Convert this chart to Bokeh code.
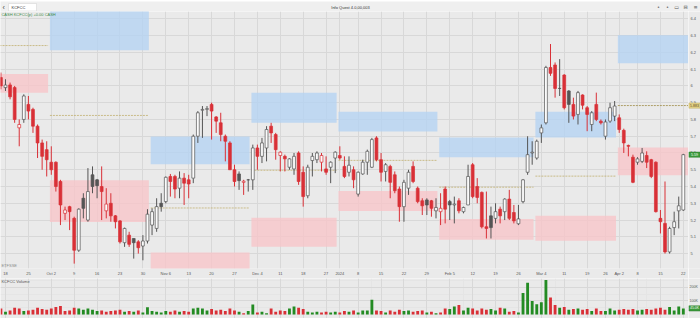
import numpy as np
from bokeh.plotting import figure
from bokeh.models import Range1d, FixedTicker, ColumnDataSource, Label, Grid
from bokeh.layouts import column, row
from bokeh.embed import file_html
from bokeh.resources import INLINE
from bokeh.core.properties import value

# ---------------- data ----------------
day_index = list(range(-1, 149))
opens = [6.05, 5.99, 6.006, 5.99, 5.75, 5.80, 5.89, 5.86, 5.76, 5.66, 5.62, 5.545, 5.545, 5.43, 5.24, 5.28, 5.21, 5.02, 5.33, 5.20,
         5.47, 5.44, 5.40, 5.255, 5.30, 5.225, 5.195, 5.065, 5.11, 5.09, 5.07, 5.045, 5.075, 5.17, 5.15, 5.30, 5.31, 5.46, 5.46, 5.39,
         5.45, 5.44, 5.45, 5.70, 5.855, 5.86, 5.89, 5.815, 5.78, 5.70, 5.66, 5.50, 5.475, 5.425, 5.44, 5.44, 5.63, 5.58, 5.63, 5.76,
         5.71, 5.585, 5.58, 5.515, 5.505, 5.60, 5.485, 5.345, 5.555, 5.56, 5.545, 5.505, 5.515, 5.57, 5.585, 5.52, 5.485, 5.50, 5.355, 5.475,
         5.545, 5.515, 5.69, 5.56, 5.49, 5.52, 5.47, 5.385, 5.28, 5.39, 5.52, 5.39, 5.315, 5.32, 5.315, 5.255, 5.25, 5.385, 5.31, 5.29,
         5.315, 5.25, 5.29, 5.53, 5.40, 5.365, 5.16, 5.225, 5.21, 5.265, 5.25, 5.325, 5.245, 5.178, 5.31, 5.485, 5.60, 5.57, 5.72, 5.78,
         6.11, 6.125, 5.985, 6.065, 5.97, 5.89, 5.83, 5.946, 5.87, 5.77, 5.89, 5.79, 5.70, 5.79, 5.82, 5.81, 5.735, 5.645, 5.575, 5.545,
         5.55, 5.585, 5.56, 5.545, 5.21, 5.18, 5.01, 5.155, 5.255, 5.26]
highs = [6.08, 6.04, 6.02, 6.00, 5.80, 5.95, 5.94, 5.87, 5.77, 5.68, 5.67, 5.64, 5.55, 5.44, 5.28, 5.285, 5.22, 5.27, 5.36, 5.51,
         5.52, 5.445, 5.52, 5.39, 5.36, 5.23, 5.20, 5.155, 5.13, 5.09, 5.08, 5.11, 5.265, 5.27, 5.33, 5.36, 5.46, 5.475, 5.47, 5.49,
         5.48, 5.47, 5.71, 5.85, 5.88, 5.88, 5.90, 5.82, 5.84, 5.71, 5.67, 5.53, 5.49, 5.44, 5.445, 5.65, 5.65, 5.69, 5.76, 5.78,
         5.72, 5.61, 5.59, 5.57, 5.60, 5.61, 5.52, 5.53, 5.60, 5.61, 5.60, 5.58, 5.55, 5.61, 5.64, 5.58, 5.58, 5.52, 5.49, 5.56,
         5.62, 5.69, 5.70, 5.60, 5.54, 5.53, 5.49, 5.40, 5.44, 5.50, 5.55, 5.40, 5.33, 5.33, 5.32, 5.33, 5.36, 5.40, 5.32, 5.34,
         5.33, 5.28, 5.53, 5.54, 5.45, 5.37, 5.37, 5.28, 5.30, 5.28, 5.33, 5.38, 5.29, 5.29, 5.445, 5.70, 5.67, 5.68, 5.77, 6.12,
         6.25, 6.14, 6.16, 6.07, 5.975, 5.93, 5.97, 5.95, 5.88, 5.85, 5.96, 5.80, 5.80, 5.90, 5.91, 5.83, 5.745, 5.65, 5.59, 5.575,
         5.63, 5.61, 5.565, 5.55, 5.26, 5.43, 5.16, 5.25, 5.34, 5.595]
lows = [5.98, 5.97, 5.92, 5.78, 5.64, 5.78, 5.80, 5.72, 5.57, 5.50, 5.46, 5.47, 5.37, 5.17, 5.20, 5.14, 4.94, 5.01, 5.21, 5.19,
        5.36, 5.33, 5.20, 5.21, 5.19, 5.15, 5.06, 5.04, 5.04, 4.97, 5.00, 4.96, 5.06, 5.11, 5.13, 5.25, 5.30, 5.34, 5.33, 5.33,
        5.29, 5.33, 5.42, 5.66, 5.69, 5.82, 5.68, 5.72, 5.67, 5.55, 5.50, 5.40, 5.38, 5.35, 5.37, 5.38, 5.50, 5.54, 5.55, 5.66,
        5.56, 5.49, 5.49, 5.50, 5.47, 5.41, 5.28, 5.33, 5.46, 5.54, 5.49, 5.47, 5.42, 5.48, 5.56, 5.45, 5.46, 5.39, 5.34, 5.47,
        5.47, 5.51, 5.55, 5.43, 5.43, 5.33, 5.36, 5.19, 5.19, 5.35, 5.42, 5.30, 5.23, 5.23, 5.22, 5.21, 5.17, 5.18, 5.20, 5.18,
        5.24, 5.24, 5.29, 5.33, 5.30, 5.15, 5.09, 5.09, 5.18, 5.18, 5.20, 5.20, 5.18, 5.17, 5.30, 5.47, 5.53, 5.56, 5.66, 5.77,
        6.06, 5.93, 5.94, 5.86, 5.78, 5.80, 5.77, 5.86, 5.73, 5.73, 5.79, 5.77, 5.68, 5.78, 5.79, 5.72, 5.60, 5.58, 5.42, 5.53,
        5.54, 5.51, 5.45, 5.245, 5.12, 5.00, 5.00, 5.11, 5.15, 5.255]
closes = [6.00, 6.005, 5.935, 5.80, 5.77, 5.94, 5.85, 5.76, 5.66, 5.58, 5.56, 5.50, 5.40, 5.29, 5.26, 5.25, 5.02, 5.265, 5.27, 5.37,
          5.40, 5.405, 5.37, 5.295, 5.225, 5.19, 5.07, 5.15, 5.055, 5.065, 5.035, 5.075, 5.235, 5.25, 5.28, 5.28, 5.455, 5.43, 5.385, 5.45,
          5.42, 5.415, 5.70, 5.84, 5.86, 5.865, 5.85, 5.79, 5.71, 5.67, 5.50, 5.43, 5.435, 5.432, 5.44, 5.63, 5.58, 5.66, 5.74, 5.72,
          5.62, 5.605, 5.565, 5.565, 5.58, 5.43, 5.34, 5.515, 5.58, 5.60, 5.585, 5.485, 5.545, 5.605, 5.57, 5.46, 5.527, 5.44, 5.485, 5.545,
          5.61, 5.68, 5.56, 5.485, 5.53, 5.425, 5.375, 5.28, 5.425, 5.485, 5.43, 5.31, 5.285, 5.29, 5.27, 5.275, 5.27, 5.265, 5.29, 5.295,
          5.255, 5.275, 5.46, 5.34, 5.335, 5.16, 5.15, 5.155, 5.25, 5.225, 5.325, 5.21, 5.195, 5.207, 5.44, 5.59, 5.605, 5.67, 5.75, 6.11,
          6.075, 5.985, 5.985, 5.87, 5.89, 5.82, 5.96, 5.885, 5.83, 5.84, 5.80, 5.78, 5.785, 5.87, 5.88, 5.74, 5.66, 5.64, 5.425, 5.565,
          5.60, 5.545, 5.46, 5.25, 5.19, 5.01, 5.15, 5.19, 5.285, 5.59]
volume_k = [45, 20, 30, 50, 45, 25, 30, 35, 50, 40, 35, 45, 55, 62, 25, 30, 50, 45, 35, 45,
            35, 25, 30, 20, 25, 30, 35, 20, 25, 20, 30, 15, 54, 25, 20, 15, 25, 20, 30, 20,
            25, 20, 45, 50, 45, 30, 40, 30, 35, 25, 45, 30, 20, 10, 25, 74, 15, 20, 10, 45,
            20, 30, 25, 45, 60, 50, 40, 20, 15, 20, 15, 20, 15, 20, 15, 25, 20, 30, 15, 30,
            30, 110, 30, 25, 15, 30, 20, 35, 25, 30, 20, 25, 30, 15, 20, 10, 15, 45, 40, 60,
            70, 30, 50, 45, 30, 45, 35, 40, 30, 50, 45, 20, 25, 15, 160, 235, 100, 75, 90, 255,
            125, 70, 50, 55, 35, 40, 45, 35, 40, 25, 45, 25, 25, 45, 30, 35, 40, 35, 40, 30,
            35, 40, 35, 45, 50, 35, 55, 30, 60, 45]

# x tick labels (weekly) and price-axis tick labels
x_tick_index = [0, 5, 10, 15, 20, 25, 30, 35, 40, 45, 50, 55, 60, 65, 70, 73, 77, 82, 87, 92, 97, 102, 107, 112,
                117, 122, 127, 131, 134, 138, 143, 148]
x_tick_labels = ["18", "25", "Oct 2", "9", "16", "23", "30", "Nov 6", "13", "20", "27", "Dec 4", "11", "18", "27",
                 "2024", "8", "15", "22", "29", "Feb 5", "12", "19", "26", "Mar 4", "11", "19", "26", "Apr 2", "8",
                 "15", "22"]
y_ticks = [5.0, 5.1, 5.2, 5.3, 5.4, 5.5, 5.6, 5.7, 5.8, 5.9, 6.0, 6.1, 6.2, 6.3, 6.4]
y_tick_labels = ["5", "5.1", "5.2", "5.3", "5.4", "5.5", "5.6", "5.7", "5.8", "5.9", "6", "6.1", "6.2", "6.3", "6.4"]
vol_ticks = [100, 200]
vol_tick_labels = ["100K", "200K"]

# monthly zones (start/end in trading-day index)
zone_start = [-1.5, 9.5, 31.5, 53.5, 72.5, 94.5, 115.5, 133.5]
zone_end = [9.5, 31.5, 53.5, 72.5, 94.5, 115.5, 133.5, 149.5]
zone_high_top = [np.nan, 6.50, 5.698, 5.959, 5.846, 5.692, 5.846, 6.302]
zone_high_bottom = [np.nan, 6.213, 5.533, 5.781, 5.728, 5.574, 5.692, 6.136]
zone_mid = [6.241, 5.824, 5.272, 5.497, 5.556, 5.396, 5.462, 5.883]
zone_low_top = [6.071, 5.438, 5.006, 5.213, 5.373, 5.207, 5.225, 5.633]
zone_low_bottom = [5.959, 5.189, 4.85, 5.041, 5.254, 5.083, 5.077, 5.467]

# ---------------- styling ----------------
BG = "#eaeaea"
GRID = "#d8d8d8"
RED = "#d93037"
DARK = "#555555"
GREEN = "#238b23"
FONT = "Liberation Sans"
FS = "4px"

o = np.array(opens); h = np.array(highs); l = np.array(lows); c = np.array(closes)
prev = np.concatenate([[o[0]], c[:-1]])
up_prev = c >= prev
line_col = [DARK if u else RED for u in up_prev]
hollow = c >= o
fill_col = ["#fbfbfb" if hw else lc for hw, lc in zip(hollow, line_col)]
src = ColumnDataSource(dict(x=day_index, o=o, h=h, l=l, c=c,
                            top=np.maximum(o, c), bottom=np.minimum(o, c),
                            lc=line_col, fc=fill_col))

X0, X1 = -1.09, 149.13
Y0, Y1 = 4.911, 6.444
V0, V1 = -29.6, 266.4


def base_fig(**kw):
    f = figure(toolbar_location=None, output_backend="svg", **kw)
    f.background_fill_color = BG
    f.border_fill_color = BG
    f.outline_line_color = None
    return f


# ---------------- header ----------------
hdr = figure(width=700, height=11, x_range=Range1d(0, 700), y_range=Range1d(11, 0),
             x_axis_location=None, y_axis_location=None, toolbar_location=None,
             output_backend="svg", min_border=0)
hdr.background_fill_color = "#efefef"
hdr.border_fill_color = "#efefef"
hdr.outline_line_color = None
hdr.xgrid.visible = False
hdr.ygrid.visible = False
hdr.quad(left=[8], right=[36], top=[2], bottom=[9.5], fill_color="white", line_color="#cfcfcf", line_width=0.5)
hdr.text(x=[2], y=[5.8], text=["‹"], text_font=value(FONT), text_font_size="7px", text_color="#444",
         text_baseline="middle")
hdr.text(x=[11], y=[5.8], text=["KCFCC"], text_font=value(FONT), text_font_size=FS, text_color="#333",
         text_baseline="middle")
hdr.text(x=[350], y=[5.8], text=["Info Quest 4.0,00,003"], text_font=value(FONT), text_font_size=FS,
         text_color="#333", text_baseline="middle", text_align="center")
hdr.text(x=[658, 667, 676, 685, 695], y=[5.8] * 5, text=["•", "•", "▭", "⊟", "≡"], text_font=value("DejaVu Sans"),
         text_font_size="5px", text_color="#555", text_baseline="middle", text_align="center")

# ---------------- price pane ----------------
p = base_fig(width=688, height=267, x_range=Range1d(X0, X1), y_range=Range1d(Y0, Y1),
             y_axis_location=None, min_border_left=0, min_border_right=0, min_border_top=0,
             min_border_bottom=8)
ax = p.xaxis[0]
ax.axis_line_color = None
ax.major_tick_line_color = None
ax.minor_tick_line_color = None
ax.major_tick_out = 0
ax.major_tick_in = 0
ax.minor_tick_out = 0
ax.major_label_text_font = FONT
ax.major_label_text_font_size = FS
ax.major_label_text_color = "#555"
ax.major_label_standoff = 2
ax.ticker = FixedTicker(ticks=x_tick_index)
ax.major_label_overrides = {t: s for t, s in zip(x_tick_index, x_tick_labels)}
p.xgrid.ticker = FixedTicker(ticks=x_tick_index)
p.xgrid.grid_line_color = GRID
p.add_layout(Grid(dimension=1, ticker=FixedTicker(ticks=y_ticks), grid_line_color=GRID))

gap = 0.2
zl = [s + gap for s in zone_start]
zr = [e - gap for e in zone_end]
p.quad(left=zl, right=zr, top=zone_high_top, bottom=zone_high_bottom,
       fill_color="#b5d3f3", fill_alpha=0.8, line_color=None)
p.quad(left=zl, right=zr, top=zone_low_top, bottom=zone_low_bottom,
       fill_color="#f8c5c9", fill_alpha=0.8, line_color=None)
p.segment(x0=zl[:-1], x1=zr[:-1], y0=zone_mid[:-1], y1=zone_mid[:-1], line_color="#c2b070",
          line_dash="2 1", line_width=0.8)
p.segment(x0=[zl[-1]], x1=[X1], y0=[zone_mid[-1]], y1=[zone_mid[-1]], line_color="#9e8c45",
          line_dash="2 1", line_width=0.8)

p.segment(x0="x", x1="x", y0="h", y1="l", line_color="lc", line_width=1, source=src)
p.vbar(x="x", width=0.62, top="top", bottom="bottom", fill_color="fc", line_color="lc",
       line_width=0.7, source=src)

p.add_layout(Label(x=X0 + 0.2, y=Y1 - 3 / 169, text="CASH KCFCC(p) +0.00 CASH", text_font=FONT,
                   text_font_size=FS, text_color="#3f8a4a", text_baseline="middle"))
p.add_layout(Label(x=X0 + 0.2, y=Y0 + 3 / 169, text="ETFSSE", text_font=FONT,
                   text_font_size=FS, text_color="#8a8a8a", text_baseline="middle"))

# right price scale strip (12 px), sharing the price y-range
ps = base_fig(width=12, height=267, x_range=Range1d(0, 12), y_range=p.y_range,
              x_axis_location=None, y_axis_location=None, min_border_left=0, min_border_right=0,
              min_border_top=0, min_border_bottom=8)
ps.xgrid.visible = False
ps.ygrid.visible = False
ps.text(x=[2] * len(y_ticks), y=y_ticks, text=y_tick_labels, text_font=value(FONT), text_font_size=FS,
        text_color="#555", text_baseline="middle")
hl_vals = [zone_mid[-1], closes[-1]]
hl_text = ["%.3f" % zone_mid[-1], "%.2f" % closes[-1]]
hl_fill = ["#e6d48c", "#3c9a3c"]
hl_line = ["#b9a75a", "#2d7a2d"]
hl_tc = ["#5a4a10", "#ffffff"]
half = 2.6 / 169
ps.quad(left=[0.3] * 2, right=[11.7] * 2, top=[v_ + half for v_ in hl_vals],
        bottom=[v_ - half for v_ in hl_vals], fill_color=hl_fill, line_color=hl_line, line_width=0.5)
ps.text(x=[6] * 2, y=hl_vals, text=hl_text, text_font=value(FONT), text_font_size="3.6px",
        text_color=hl_tc, text_baseline="middle", text_align="center")

# ---------------- volume pane ----------------
v = base_fig(width=688, height=40, x_range=p.x_range, y_range=Range1d(V0, V1),
             x_axis_location=None, y_axis_location=None, min_border_left=0, min_border_right=0,
             min_border_top=0, min_border_bottom=0)
v.add_layout(Grid(dimension=1, ticker=FixedTicker(ticks=vol_ticks), grid_line_color=GRID))
v.add_layout(Grid(dimension=0, ticker=FixedTicker(ticks=x_tick_index), grid_line_color=GRID))

vol_col = [GREEN if u else RED for u in up_prev]
vsrc = ColumnDataSource(dict(x=day_index, v=volume_k, col=vol_col))
v.vbar(x="x", width=0.62, top="v", bottom=0, fill_color="col", line_color=None, source=vsrc)
v.add_layout(Label(x=X0 + 0.2, y=V1 - 3 * 7.4, text="KCFCC Volume", text_font=FONT,
                   text_font_size=FS, text_color="#555", text_baseline="middle"))

vs = base_fig(width=12, height=40, x_range=Range1d(0, 12), y_range=v.y_range,
              x_axis_location=None, y_axis_location=None, min_border=0)
vs.xgrid.visible = False
vs.ygrid.visible = False
vs.text(x=[1] * len(vol_ticks), y=vol_ticks, text=vol_tick_labels, text_font=value(FONT), text_font_size="3.6px",
        text_color="#555", text_baseline="middle")
vhalf = 2.6 * 7.4
vs.quad(left=[0.3], right=[11.7], top=[volume_k[-1] + vhalf], bottom=[volume_k[-1] - vhalf],
        fill_color="#3c9a3c", line_color="#2d7a2d", line_width=0.5)
vs.text(x=[6], y=[volume_k[-1]], text=["%.1fK" % volume_k[-1]], text_font=value(FONT), text_font_size="3.4px",
        text_color="white", text_baseline="middle", text_align="center")

layout = column(hdr, row(p, ps, spacing=0), row(v, vs, spacing=0), spacing=0)
open("out.html", "w").write(file_html(layout, INLINE))
